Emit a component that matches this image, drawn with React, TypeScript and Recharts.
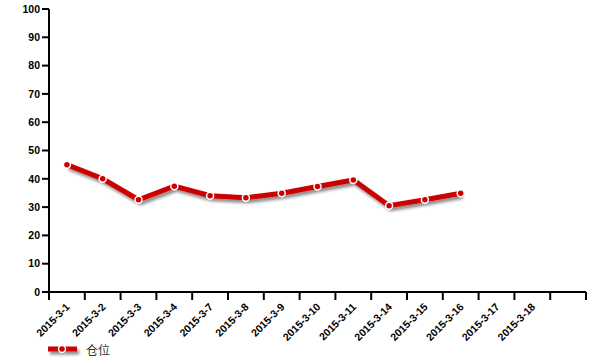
import { LineChart, Line, XAxis, YAxis } from 'recharts';

const categories = [
  '2015-3-1', '2015-3-2', '2015-3-3', '2015-3-4', '2015-3-7', '2015-3-8', '2015-3-9',
  '2015-3-10', '2015-3-11', '2015-3-14', '2015-3-15', '2015-3-16', '2015-3-17', '2015-3-18', '',
];
const positionValues = [45, 40, 32.6, 37.4, 34, 33.3, 34.9, 37.3, 39.6, 30.5, 32.6, 34.9];
const yTicks = [0, 10, 20, 30, 40, 50, 60, 70, 80, 90, 100];
const seriesName = '仓位';

const W = 600;
const H = 363;
const MARGIN = { top: 9, right: 14, bottom: 0, left: 0 };
const Y_WIDTH = 49;
const BAND = (W - MARGIN.left - MARGIN.right - Y_WIDTH) / categories.length;
const RED = '#cc0000';
const FONT = 'Arial, "Liberation Sans", "Noto Sans CJK SC", sans-serif';

const data = positionValues.map((v, i) => ({ x: i + 0.5, value: v }));
const xTicks = categories.map((_, i) => i).concat(categories.length);

function DateTick({ x, y, payload }: any) {
  const label = categories[payload.value];
  if (!label) return null;
  const cx = x + BAND / 2 + 1;
  const cy = y + 3;
  return (
    <text
      x={cx}
      y={cy}
      transform={`rotate(-45 ${cx} ${cy})`}
      textAnchor="end"
      fontSize={10.5}
      fontWeight="bold"
      fontFamily={FONT}
      fill="#000"
      dy="0.35em"
    >
      {label}
    </text>
  );
}

export default function App() {
  return (
    <div style={{ position: 'absolute', left: 0, top: 0, width: W, height: H, background: '#fff' }}>
      <style>{`.recharts-line-curve { filter: url(#lineShadow); }`}</style>
      <svg width={0} height={0} style={{ position: 'absolute' }}>
        <defs>
          <filter id="lineShadow" filterUnits="userSpaceOnUse" x="0" y="0" width="600" height="363">
            <feDropShadow dx={2} dy={3} stdDeviation={1.8} floodColor="#000" floodOpacity={0.45} />
          </filter>
        </defs>
      </svg>
      <LineChart width={W} height={H} data={data} margin={MARGIN}>
        <XAxis
          type="number"
          dataKey="x"
          domain={[0, categories.length]}
          ticks={xTicks}
          interval={0}
          height={71}
          axisLine={{ stroke: '#000', strokeWidth: 2 }}
          tickLine={{ stroke: '#000', strokeWidth: 2 }}
          tickSize={8}
          tick={<DateTick />}
        />
        <YAxis
          domain={[0, 100]}
          ticks={yTicks}
          interval={0}
          width={Y_WIDTH}
          axisLine={{ stroke: '#000', strokeWidth: 2 }}
          tickLine={{ stroke: '#000', strokeWidth: 2 }}
          tickSize={7}
          tick={{ fontSize: 10.5, fontWeight: 'bold', fill: '#000', fontFamily: FONT }}
        />
        <Line
          type="linear"
          dataKey="value"
          name={seriesName}
          stroke={RED}
          strokeWidth={5}
          dot={{ r: 3.5, fill: RED, stroke: '#fff', strokeWidth: 1.5 }}
          isAnimationActive={false}
        />
      </LineChart>
      <div style={{ position: 'absolute', left: 46, top: 340, display: 'flex', alignItems: 'center' }}>
        <svg width={36} height={18}>
          <rect x={2} y={6.5} width={29} height={5} fill={RED} filter="url(#lineShadow)" />
          <circle cx={16} cy={9} r={3.5} fill={RED} stroke="#fff" strokeWidth={1.5} />
        </svg>
        <span style={{ marginLeft: 4, fontSize: 12, color: '#333', fontFamily: FONT }}>{seriesName}</span>
      </div>
    </div>
  );
}
